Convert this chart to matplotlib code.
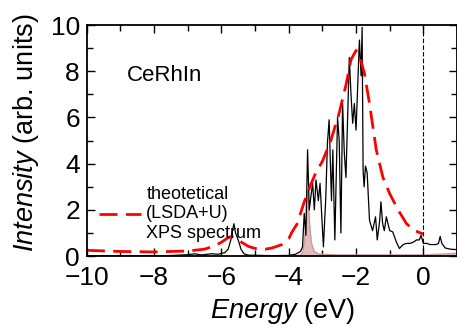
import matplotlib
matplotlib.use("Agg")
import matplotlib.pyplot as plt
from matplotlib.ticker import MultipleLocator

plt.rcParams["font.family"] = ["Liberation Sans", "DejaVu Sans"]
plt.rcParams["mathtext.fontset"] = "custom"
plt.rcParams["mathtext.rm"] = "Liberation Sans"
plt.rcParams["mathtext.it"] = "Liberation Sans:italic"

# LSDA+U density of states (black)
dos_e = [-10.0, -9.0, -8.0, -7.6, -7.3, -7.0, -6.8, -6.6, -6.3, -6.1, -5.9, -5.8,
         -5.72, -5.67, -5.63, -5.58, -5.53, -5.48, -5.42, -5.33, -5.2, -4.5, -4.0,
         -3.8, -3.65, -3.59, -3.54, -3.49, -3.44, -3.39, -3.34, -3.29, -3.24, -3.19,
         -3.12, -3.07, -2.97, -2.9, -2.85, -2.8, -2.73, -2.69, -2.63, -2.55, -2.5,
         -2.45, -2.4, -2.35, -2.3, -2.25, -2.2, -2.15, -2.1, -2.05, -2.0, -1.95,
         -1.9, -1.85, -1.82, -1.79, -1.76, -1.72, -1.67, -1.6, -1.51, -1.42, -1.37,
         -1.3, -1.26, -1.21, -1.16, -1.1, -1.0, -0.91, -0.8, -0.71, -0.6, -0.5,
         -0.4, -0.3, -0.2, -0.12, -0.07, -0.03, 0.0, 0.1, 0.2, 0.38, 0.45, 0.5,
         0.55, 0.65, 0.8, 1.0]
dos_i = [0.01, 0.01, 0.02, 0.02, 0.04, 0.06, 0.1, 0.05, 0.1, 0.08, 0.15, 0.3,
         0.7, 1.1, 1.4, 1.0, 0.8, 0.6, 0.3, 0.1, 0.04, 0.02, 0.03,
         0.08, 0.2, 0.4, 1.85, 0.9, 4.6, 2.0, 2.6, 3.15, 2.0, 3.3,
         2.4, 3.15, 0.4, 2.5, 4.9, 5.9, 2.4, 4.6, 0.7, 6.0, 5.0,
         1.0, 6.6, 4.5, 3.4, 6.0, 8.6, 7.0, 5.75, 6.6, 5.45, 7.4,
         9.35, 7.8, 9.9, 3.7, 3.0, 3.9, 3.6, 1.55, 1.1, 1.7, 0.7,
         1.5, 2.35, 1.4, 1.1, 1.7, 1.1, 1.05, 0.6, 0.33, 0.5, 0.55,
         0.55, 0.6, 0.7, 0.7, 0.9, 0.7, 0.55, 0.55, 0.5, 0.5, 0.55, 0.85,
         0.55, 0.35, 0.3, 0.28]

# Ce 4f contribution (shaded)
f_e = [-3.75, -3.6, -3.55, -3.5, -3.47, -3.44, -3.41, -3.38, -3.33, -3.25,
       -3.1, -2.5, 0.0, 1.0]
f_i = [0.0, 0.1, 0.4, 1.2, 2.2, 2.85, 2.3, 1.4, 0.6, 0.2,
       0.08, 0.05, 0.05, 0.12]

# broadened theoretical XPS spectrum (red dashed)
xps_e = [-10.0, -9.0, -8.0, -7.0, -6.5, -6.2, -6.0, -5.8, -5.7, -5.55, -5.4,
         -5.2, -5.0, -4.7, -4.5, -4.3, -4.2, -4.0, -3.9, -3.75, -3.55, -3.4,
         -3.2, -3.0, -2.75, -2.5, -2.3, -2.15, -2.0, -1.9, -1.75, -1.6, -1.4,
         -1.2, -1.0, -0.75, -0.5, -0.25, 0.0]
xps_i = [0.25, 0.2, 0.18, 0.22, 0.3, 0.45, 0.6, 0.8, 0.85, 0.78, 0.6,
         0.42, 0.33, 0.3, 0.35, 0.45, 0.5, 0.75, 1.05, 1.4, 2.3, 2.9,
         3.6, 4.1, 5.0, 6.2, 7.4, 8.5, 8.9, 8.7, 7.9, 6.6, 4.6,
         3.4, 2.7, 2.0, 1.4, 1.1, 0.95]

fig = plt.figure(figsize=(4.57, 3.25), dpi=100)
ax = fig.add_axes([0.19, 0.212, 0.81, 0.711])

ax.fill_between(f_e, 0, f_i, color="#e2bcbc", lw=0)
ax.plot(f_e, f_i, color="#c99a9a", lw=1.0)
ax.plot(dos_e, dos_i, color="black", lw=0.9)
ax.plot(xps_e, xps_i, color="red", lw=2.0, dashes=(6.5, 3),
        label="theotetical\n(LSDA+U)\nXPS spectrum")
ax.axvline(0, color="black", lw=0.8, dashes=(4, 2))

ax.set_xlim(-10, 1)
ax.set_ylim(0, 10)
ax.xaxis.set_major_locator(MultipleLocator(2))
ax.xaxis.set_minor_locator(MultipleLocator(1))
ax.yaxis.set_major_locator(MultipleLocator(2))
ax.yaxis.set_minor_locator(MultipleLocator(1))
ax.tick_params(which="both", direction="in", top=True, right=True, width=1.0,
               labelsize=19)
ax.tick_params(axis="x", which="both", pad=7)
ax.tick_params(axis="y", which="both", pad=5)
ax.tick_params(which="major", length=6)
ax.tick_params(which="minor", length=4)
for s in ax.spines.values():
    s.set_linewidth(1.3)

ax.set_xlabel(r"$\it{Energy}$ (eV)", fontsize=19.5)
ax.set_ylabel(r"$\it{Intensity}$ (arb. units)", fontsize=19.5)
ax.xaxis.set_label_coords(0.53, -0.172)
ax.yaxis.set_label_coords(-0.125, 0.535)

ax.text(-8.82, 7.8, "CeRhIn", fontsize=16, va="center")
ax.legend(loc="upper left", bbox_to_anchor=(-0.01, 0.375), frameon=False,
          fontsize=13, handlelength=2.3, handletextpad=0.3, labelspacing=0.1)

fig.savefig("out.png", dpi=100)
